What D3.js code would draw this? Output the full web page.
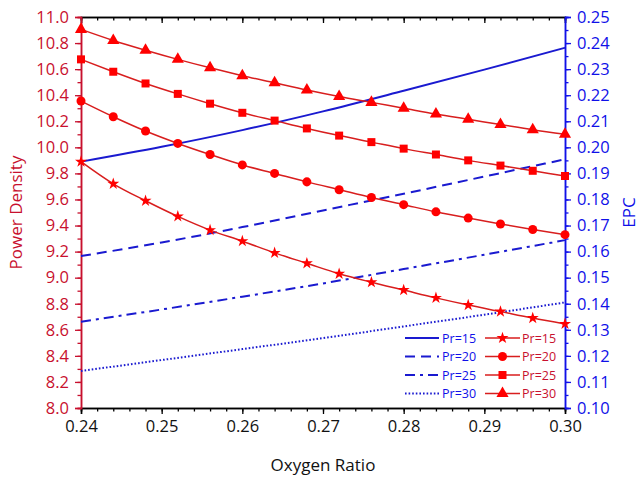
<!DOCTYPE html>
<html>
<head>
<meta charset="utf-8">
<script src="https://cdn.jsdelivr.net/npm/d3@7"></script>
<style>
  body { margin: 0; background: #fff; }
  text { font-family: "Open Sans", sans-serif; }
</style>
</head>
<body>
<script>
// data
var xRed = [0.240, 0.244, 0.248, 0.252, 0.256, 0.260, 0.264, 0.268,
            0.272, 0.276, 0.280, 0.284, 0.288, 0.292, 0.296, 0.300];
var pd15 = [9.89, 9.72, 9.59, 9.47, 9.365, 9.28, 9.19, 9.11, 9.03, 8.965, 8.905, 8.845, 8.79, 8.74, 8.69, 8.645];
var pd20 = [10.355, 10.235, 10.125, 10.03, 9.945, 9.865, 9.80, 9.735, 9.675, 9.615, 9.56, 9.505, 9.457, 9.412, 9.37, 9.33];
var pd25 = [10.675, 10.58, 10.49, 10.41, 10.335, 10.265, 10.205, 10.145, 10.09, 10.04, 9.99, 9.945, 9.90, 9.86, 9.82, 9.78];
var pd30 = [10.905, 10.82, 10.745, 10.675, 10.61, 10.55, 10.495, 10.44, 10.39, 10.345, 10.30, 10.255, 10.215, 10.175, 10.135, 10.10];

var xBlue = [0.24, 0.25, 0.26, 0.27, 0.28, 0.29, 0.30];
var epc15 = [0.1945, 0.2002, 0.2066, 0.2138, 0.2217, 0.2298, 0.2382];
var epc20 = [0.1583, 0.1635, 0.1694, 0.1758, 0.1822, 0.1888, 0.1954];
var epc25 = [0.1331, 0.1378, 0.1427, 0.1478, 0.1533, 0.1588, 0.1644];
var epc30 = [0.1142, 0.1184, 0.1226, 0.1268, 0.1313, 0.1358, 0.1405];

var seriesLabels = ["Pr=15", "Pr=20", "Pr=25", "Pr=30"];
var xTicks = [0.24, 0.25, 0.26, 0.27, 0.28, 0.29, 0.30];
var leftTicks = [8.0, 8.2, 8.4, 8.6, 8.8, 9.0, 9.2, 9.4, 9.6, 9.8, 10.0, 10.2, 10.4, 10.6, 10.8, 11.0];
var rightTicks = [0.10, 0.11, 0.12, 0.13, 0.14, 0.15, 0.16, 0.17, 0.18, 0.19, 0.20, 0.21, 0.22, 0.23, 0.24, 0.25];

var redAxis = "#c8102e", redLine = "#d81e1e", redMark = "#ff0000";
var blueAxis = "#1010e8", blueLine = "#1a1ad0";

var W = 640, H = 477;
var margin = {top: 17, right: 75, bottom: 69, left: 81};
var width = W - margin.left - margin.right;
var height = H - margin.top - margin.bottom;

var svg = d3.select("body").append("svg")
    .attr("width", W)
    .attr("height", H);
var g = svg.append("g").attr("transform", "translate(" + margin.left + "," + margin.top + ")");

var xScale = d3.scaleLinear().domain([0.24, 0.30]).range([0, width]);
var yLeft = d3.scaleLinear().domain([8.0, 11.0]).range([height, 0]);
var yRight = d3.scaleLinear().domain([0.10, 0.25]).range([height, 0]);

// minor tick values
var xMinor = d3.range(0, 31).map(function (i) { return 0.24 + i * 0.002; });
var leftMinor = d3.range(0, 31).map(function (i) { return 8.0 + i * 0.1; });
var rightMinor = d3.range(0, 31).map(function (i) { return 0.10 + i * 0.005; });

function styleAxis(sel, color) {
    sel.select(".domain").attr("stroke", color).attr("stroke-width", 1.5);
    sel.selectAll(".tick line").attr("stroke", color).attr("stroke-width", 1.3);
    sel.selectAll(".tick text").attr("fill", color).style("font-size", "16.5px")
        .style("font-family", "'Open Sans', sans-serif");
}

// bottom axis
var bottomMinor = g.append("g").attr("transform", "translate(0," + height + ")")
    .call(d3.axisBottom(xScale).tickValues(xMinor).tickSize(3.5).tickFormat(""));
styleAxis(bottomMinor, "#000");
var bottom = g.append("g").attr("transform", "translate(0," + height + ")")
    .call(d3.axisBottom(xScale).tickValues(xTicks).tickSize(6).tickPadding(6).tickFormat(d3.format(".2f")));
styleAxis(bottom, "#000");
bottom.selectAll(".tick text").attr("fill", "#111");

// top axis, inward ticks
var topMinor = g.append("g")
    .call(d3.axisTop(xScale).tickValues(xMinor).tickSize(-3.5).tickFormat(""));
styleAxis(topMinor, "#000");
var topMajor = g.append("g")
    .call(d3.axisTop(xScale).tickValues(xTicks).tickSize(-6).tickFormat(""));
styleAxis(topMajor, "#000");

// left axis
var leftMin = g.append("g").call(d3.axisLeft(yLeft).tickValues(leftMinor).tickSize(3.5).tickFormat(""));
styleAxis(leftMin, redAxis);
var left = g.append("g").call(d3.axisLeft(yLeft).tickValues(leftTicks).tickSize(6).tickPadding(6).tickFormat(d3.format(".1f")));
styleAxis(left, redAxis);

// right axis
var rightMin = g.append("g").attr("transform", "translate(" + width + ",0)")
    .call(d3.axisRight(yRight).tickValues(rightMinor).tickSize(3.5).tickFormat(""));
styleAxis(rightMin, blueAxis);
var right = g.append("g").attr("transform", "translate(" + width + ",0)")
    .call(d3.axisRight(yRight).tickValues(rightTicks).tickSize(6).tickPadding(6).tickFormat(d3.format(".2f")));
styleAxis(right, blueAxis);

// axis titles
g.append("text")
    .attr("transform", "translate(" + (-59) + "," + (height / 2) + ") rotate(-90)")
    .attr("text-anchor", "middle")
    .attr("fill", redAxis)
    .style("font-size", "17px")
    .text("Power Density");
g.append("text")
    .attr("transform", "translate(" + (width + 70) + "," + (height / 2) + ") rotate(-90)")
    .attr("text-anchor", "middle")
    .attr("fill", blueAxis)
    .style("font-size", "17px")
    .text("EPC");
g.append("text")
    .attr("x", width / 2)
    .attr("y", height + 63)
    .attr("text-anchor", "middle")
    .attr("fill", "#111")
    .style("font-size", "17px")
    .text("Oxygen Ratio");

// blue EPC lines
var dashes = [null, "10,6", "10,5,3,5", "1.6,2"];
var blueSeries = [epc15, epc20, epc25, epc30];
var blueGen = d3.line()
    .x(function (d) { return xScale(d[0]); })
    .y(function (d) { return yRight(d[1]); })
    .curve(d3.curveMonotoneX);
blueSeries.forEach(function (s, i) {
    g.append("path")
        .datum(xBlue.map(function (x, j) { return [x, s[j]]; }))
        .attr("fill", "none")
        .attr("stroke", blueLine)
        .attr("stroke-width", 2)
        .attr("stroke-dasharray", dashes[i])
        .attr("d", blueGen);
});

// red power density lines with markers
var symbols = [d3.symbolStar, d3.symbolCircle, d3.symbolSquare, d3.symbolTriangle];
var symSizes = [45, 64, 64, 64];
var redSeries = [pd15, pd20, pd25, pd30];
var redGen = d3.line()
    .x(function (d) { return xScale(d[0]); })
    .y(function (d) { return yLeft(d[1]); })
    .curve(d3.curveMonotoneX);
redSeries.forEach(function (s, i) {
    var pts = xRed.map(function (x, j) { return [x, s[j]]; });
    g.append("path")
        .datum(pts)
        .attr("fill", "none")
        .attr("stroke", redLine)
        .attr("stroke-width", 1.5)
        .attr("d", redGen);
    g.selectAll(".mk" + i).data(pts).enter()
        .append("path")
        .attr("class", "mk" + i)
        .attr("d", d3.symbol().type(symbols[i]).size(symSizes[i]))
        .attr("fill", redMark)
        .attr("transform", function (d) { return "translate(" + xScale(d[0]) + "," + yLeft(d[1]) + ")"; });
});

// legend
var legend = g.append("g").attr("transform", "translate(" + (405 - margin.left) + "," + (338 - margin.top) + ")");
seriesLabels.forEach(function (lab, i) {
    var y = i * 18.5;
    legend.append("line")
        .attr("x1", 0).attr("x2", 34).attr("y1", y).attr("y2", y)
        .attr("stroke", blueLine).attr("stroke-width", 2)
        .attr("stroke-dasharray", dashes[i]);
    legend.append("text")
        .attr("x", 37).attr("y", y + 4.5)
        .attr("fill", blueAxis)
        .style("font-size", "12.5px")
        .text(lab);
    legend.append("line")
        .attr("x1", 80).attr("x2", 115).attr("y1", y).attr("y2", y)
        .attr("stroke", redLine).attr("stroke-width", 1.5);
    legend.append("path")
        .attr("d", d3.symbol().type(symbols[i]).size(symSizes[i]))
        .attr("fill", redMark)
        .attr("transform", "translate(97.5," + y + ")");
    legend.append("text")
        .attr("x", 117).attr("y", y + 4.5)
        .attr("fill", redAxis)
        .style("font-size", "12.5px")
        .text(lab);
});
</script>
</body>
</html>
